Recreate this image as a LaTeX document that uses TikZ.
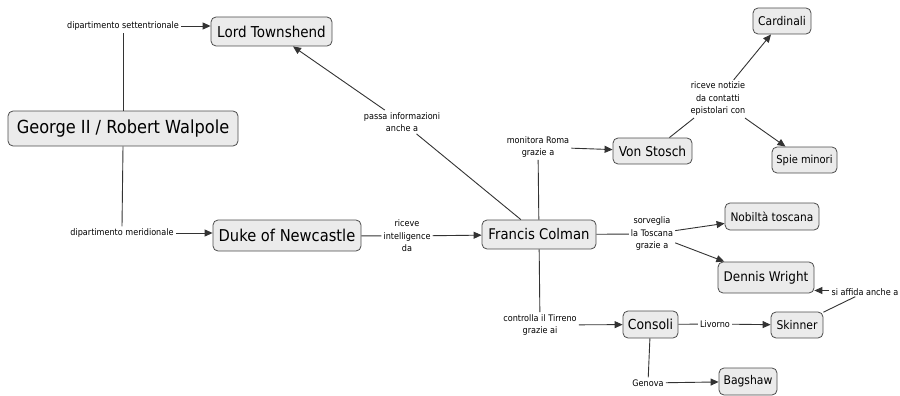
\documentclass[tikz,border=0pt]{standalone}
\usepackage{fontspec}
\setmainfont{DejaVu Sans}[FakeStretch=0.9]
\usetikzlibrary{arrows.meta}
\tikzset{
 concept/.style={draw=black!70, fill=black!8, rounded corners=5pt, line width=0.8pt, inner sep=0pt, align=center},
 lbl/.style={inner sep=2pt, align=center, font=\fontsize{9}{12.5}\selectfont},
 con/.style={draw=black!80, line width=0.9pt},
 arr/.style={con, -{Triangle[length=8pt,width=7pt]}},
}
\newcommand{\fs}[1]{\fontsize{#1}{#1}\selectfont}
\begin{document}
\begin{tikzpicture}[x=1pt,y=-1pt]
\useasboundingbox (0,0) rectangle (900,396);
% concepts
\node[concept, minimum width=121pt, minimum height=29pt, font=\fs{15}] (LT) at (271.5,31.5) {Lord Townshend};
\node[concept, minimum width=230pt, minimum height=35pt, font=\fs{18}] (G) at (123,128.5) {George II / Robert Walpole};
\node[concept, minimum width=148pt, minimum height=31pt, font=\fs{16.3}] (D) at (287,235.5) {Duke of Newcastle};
\node[concept, minimum width=114pt, minimum height=29pt, font=\fs{14.7}] (F) at (539,234.5) {Francis Colman};
\node[concept, minimum width=79pt, minimum height=26pt, font=\fs{13.6}] (VS) at (652.5,151) {Von Stosch};
\node[concept, minimum width=58pt, minimum height=26pt, font=\fs{12}] (Ca) at (782,21) {Cardinali};
\node[concept, minimum width=65pt, minimum height=26pt, font=\fs{11}] (Sp) at (804.5,160) {Spie minori};
\node[concept, minimum width=94pt, minimum height=27pt, font=\fs{11.8}] (N) at (772,216.5) {Nobiltà toscana};
\node[concept, minimum width=96pt, minimum height=31pt, font=\fs{13.3}] (DW) at (766,277.5) {Dennis Wright};
\node[concept, minimum width=52pt, minimum height=26pt, font=\fs{12}] (Sk) at (797,325) {Skinner};
\node[concept, minimum width=55pt, minimum height=27pt, font=\fs{13.8}] (Co) at (650.5,324.5) {Consoli};
\node[concept, minimum width=58pt, minimum height=27pt, font=\fs{12}] (B) at (748,381.5) {Bagshaw};
% labels
\node[lbl] (set) at (123,26) {dipartimento settentrionale};
\node[lbl] (mer) at (122,233) {dipartimento meridionale};
\node[lbl] (pas) at (402,122) {passa informazioni\\anche a};
\node[lbl] (ri) at (407,236) {riceve\\intelligence\\da};
\node[lbl] (mon) at (538,147) {monitora Roma\\grazie a};
\node[lbl] (rn) at (718,99) {riceve notizie\\da contatti\\epistolari con};
\node[lbl] (sor) at (652,234) {sorveglia\\la Toscana\\grazie a};
\node[lbl] (ctr) at (540,325) {controlla il Tirreno\\grazie ai};
\node[lbl] (liv) at (715,324) {Livorno};
\node[lbl] (gen) at (648,383) {Genova};
\node[lbl, inner sep=1pt, anchor=east] (sia) at (899.5,292) {si affida anche a};
% connectors
\draw[con] (G.north) -- (set.south);
\draw[arr] (set.east) -- (set.east -| LT.west);
\draw[con] (G.south) -- (mer.north);
\draw[arr] (mer.east) -- (mer.east -| D.west);
\draw[con] (D) -- (ri);
\draw[arr] (ri) -- (F);
\draw[con] (F) -- (pas);
\draw[arr] (pas) -- (LT);
\draw[con] (F) -- (mon);
\draw[arr] (mon) -- (VS);
\draw[con] (VS) -- (rn);
\draw[arr] (rn) -- (Ca);
\draw[arr] (rn) -- (Sp);
\draw[con] (F) -- (sor);
\draw[arr] (sor) -- (N);
\draw[arr] (sor) -- (DW);
\draw[con] (F) -- (ctr);
\draw[arr] (ctr) -- (Co);
\draw[con] (Co) -- (liv);
\draw[arr] (liv) -- (Sk);
\draw[con] (Co) -- (gen);
\draw[arr] (gen) -- (B);
\draw[con] (Sk) -- (sia);
\draw[arr] ([yshift=1.5pt,xshift=-1pt]sia.west) -- ([yshift=1.5pt]sia.west -| DW.east);
\end{tikzpicture}
\end{document}
